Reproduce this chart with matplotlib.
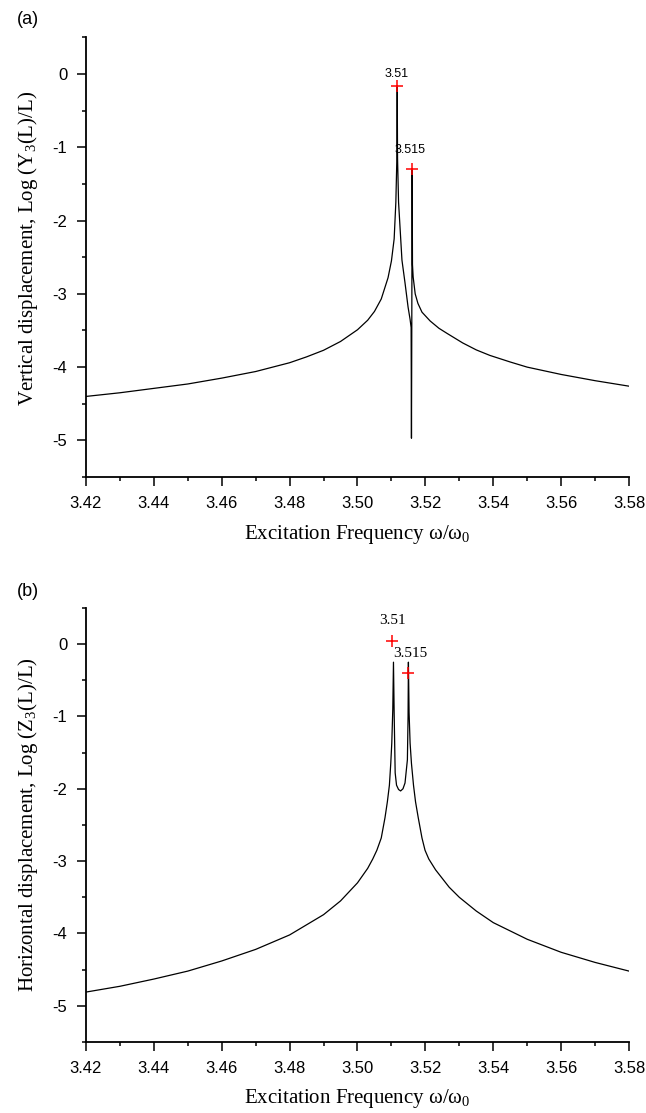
import matplotlib
matplotlib.use("Agg")
import matplotlib.pyplot as plt
from matplotlib.ticker import MultipleLocator

plt.rcParams["axes.unicode_minus"] = False

# (a) vertical displacement
freq_a = [3.42, 3.43, 3.44, 3.45, 3.46, 3.47, 3.48, 3.485, 3.49, 3.495,
          3.50, 3.503, 3.505, 3.507, 3.509, 3.510, 3.5108, 3.5113, 3.5116,
          3.5117, 3.5118, 3.5121, 3.5131, 3.5140, 3.5149, 3.5155, 3.5158,
          3.5159, 3.5160, 3.5161, 3.5162, 3.5164, 3.5170, 3.5178, 3.519,
          3.5214, 3.524, 3.5264, 3.531, 3.535, 3.539, 3.545, 3.55, 3.56,
          3.57, 3.58]
logy_a = [-4.40, -4.35, -4.29, -4.23, -4.15, -4.06, -3.94, -3.86, -3.77, -3.65,
          -3.49, -3.36, -3.24, -3.07, -2.78, -2.55, -2.25, -1.75, -1.15,
          -0.16, -1.15, -1.75, -2.54, -2.85, -3.18, -3.35, -3.46,
          -4.97, -3.40, -1.30, -2.60, -2.77, -3.00, -3.13, -3.25,
          -3.37, -3.47, -3.54, -3.67, -3.765, -3.84, -3.93, -4.00, -4.10,
          -4.185, -4.26]
peaks_a = [3.5116, 3.5161]
peak_y_a = [-0.16, -1.30]
peak_lbl_a = ["3.51", "3.515"]
lbl_x_a = [3.5116, 3.5155]
lbl_y_a = [0.0, -1.04]

# (b) horizontal displacement
freq_b = [3.42, 3.43, 3.44, 3.45, 3.46, 3.47, 3.48, 3.49, 3.495, 3.50,
          3.503, 3.5045, 3.5057, 3.507, 3.5081, 3.5088, 3.5094, 3.5098,
          3.5101, 3.5104, 3.5106, 3.5108, 3.5111, 3.5115, 3.5121, 3.5127,
          3.5134, 3.5140, 3.5147, 3.5149, 3.5150, 3.5152, 3.5155, 3.5159,
          3.5165, 3.5171, 3.5179, 3.519, 3.5199, 3.521, 3.523, 3.527,
          3.53, 3.535, 3.54, 3.55, 3.56, 3.57, 3.58]
logz_b = [-4.81, -4.73, -4.63, -4.52, -4.38, -4.22, -4.02, -3.74, -3.55, -3.30,
          -3.10, -2.97, -2.85, -2.68, -2.40, -2.18, -1.95, -1.65,
          -1.37, -0.90, -0.25, -0.95, -1.78, -1.95, -2.01, -2.03,
          -2.00, -1.92, -1.60, -1.00, -0.25, -0.95, -1.37, -1.65,
          -1.95, -2.18, -2.40, -2.68, -2.85, -2.97, -3.12, -3.36,
          -3.50, -3.69, -3.85, -4.08, -4.26, -4.40, -4.52]
peaks_b = [3.5102, 3.5149]
peak_y_b = [0.04, -0.40]
peak_lbl_b = ["3.51", "3.515"]
lbl_x_b = [3.5103, 3.5155]
lbl_y_b = [0.32, -0.13]

SANS = "Liberation Sans"
SERIF = "Liberation Serif"


def style_axes(ax):
    ax.set_xlim(3.42, 3.58)
    ax.set_ylim(-5.5, 0.5)
    ax.xaxis.set_major_locator(MultipleLocator(0.02))
    ax.xaxis.set_minor_locator(MultipleLocator(0.01))
    ax.yaxis.set_major_locator(MultipleLocator(1))
    ax.yaxis.set_minor_locator(MultipleLocator(0.5))
    ax.xaxis.set_major_formatter(plt.FuncFormatter(lambda v, p: f"{v:.2f}"))
    ax.yaxis.set_major_formatter(plt.FuncFormatter(lambda v, p: f"{v:.0f}"))
    for s in ("top", "right"):
        ax.spines[s].set_visible(False)
    for s in ("left", "bottom"):
        ax.spines[s].set_linewidth(1.3)
    ax.tick_params(which="major", direction="out", length=6.5, width=1.1, pad=7)
    ax.tick_params(which="minor", direction="out", length=3, width=1.1)
    for t in ax.get_xticklabels() + ax.get_yticklabels():
        t.set_fontfamily(SANS)
        t.set_fontsize(12)
    ax.set_xlabel(r"Excitation Frequency ω/ω$_\mathregular{0}$",
                  fontfamily=SERIF, fontsize=15)
    ax.xaxis.label.set_va("center")
    ax.xaxis.set_label_coords(0.5, -0.13)


fig = plt.figure(figsize=(6.46, 11.13), dpi=100)
ax1 = fig.add_axes([0.1331, 0.5714, 0.8406, 0.395])
ax2 = fig.add_axes([0.1331, 0.0638, 0.8406, 0.390])

ax1.plot(freq_a, logy_a, color="black", lw=0.9)
ax1.plot(peaks_a, peak_y_a, "+", color="red", ms=8, mew=1.1)
for x, y, s in zip(lbl_x_a, lbl_y_a, peak_lbl_a):
    ax1.text(x, y, s, ha="center", va="center", fontfamily=SANS, fontsize=9)
style_axes(ax1)
ax1.set_ylabel(r"Vertical displacement, Log (Y$_\mathregular{3}$(L)/L)",
               fontfamily=SERIF, fontsize=15)
ax1.yaxis.label.set_va("center")
ax1.yaxis.set_label_coords(-0.107, 0.52)

ax2.plot(freq_b, logz_b, color="black", lw=0.9)
ax2.plot(peaks_b, peak_y_b, "+", color="red", ms=8, mew=1.1)
for x, y, s in zip(lbl_x_b, lbl_y_b, peak_lbl_b):
    ax2.text(x, y, s, ha="center", va="center", fontfamily=SERIF, fontsize=11)
style_axes(ax2)
ax2.set_ylabel(r"Horizontal displacement, Log (Z$_\mathregular{3}$(L)/L)",
               fontfamily=SERIF, fontsize=15)
ax2.yaxis.label.set_va("center")
ax2.yaxis.set_label_coords(-0.107, 0.5)

fig.text(28 / 646, 1 - 19 / 1113, "(a)", ha="center", va="center",
         fontfamily=SANS, fontsize=13)
fig.text(28 / 646, 1 - 592 / 1113, "(b)", ha="center", va="center",
         fontfamily=SANS, fontsize=13)

fig.savefig("out.png", dpi=100)
